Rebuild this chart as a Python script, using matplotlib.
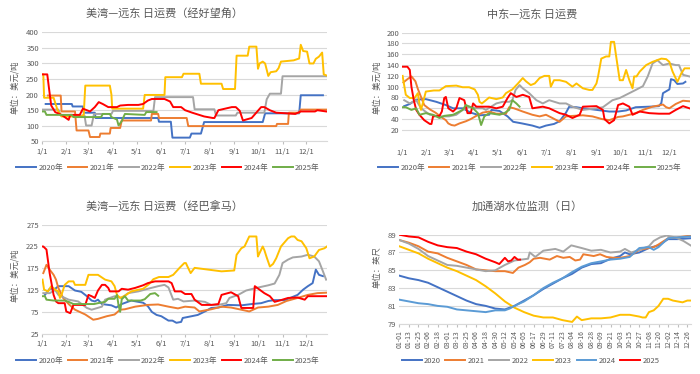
import matplotlib.pyplot as plt

plt.rcParams['font.family'] = ['Noto Sans CJK SC', 'DejaVu Sans']

# colours used in the source charts
c2020 = '#4472C4'
c2021 = '#ED7D31'
c2022 = '#A5A5A5'
c2023 = '#FFC000'
c2024 = '#FF0000'
c2025 = '#70AD47'
c2024_lake = '#5B9BD5'

month_pos = [0, 31, 59, 90, 120, 151, 181, 212, 243, 273, 304, 334]
month_lab = ['1/1', '2/1', '3/1', '4/1', '5/1', '6/1', '7/1', '8/1', '9/1', '10/1', '11/1', '12/1']
years = ['2020年', '2021年', '2022年', '2023年', '2024年', '2025年']

# ---- 美湾-远东 经好望角 (day of year, USD/t)
p1_2020_x = [5, 38, 39, 52, 53, 67, 68, 147, 148, 163, 165, 187, 189, 201, 205, 279, 282, 325, 327, 355]
p1_2020_y = [170, 170, 162, 162, 142, 142, 125, 125, 113, 113, 62, 62, 75, 75, 112, 112, 140, 140, 198, 198]
p1_2021_x = [8, 24, 25, 42, 44, 59, 61, 73, 74, 86, 87, 99, 101, 138, 139, 147, 148, 183, 185, 296, 297, 311, 312, 325, 327, 359]
p1_2021_y = [197, 197, 146, 146, 85, 85, 64, 64, 75, 75, 93, 93, 117, 117, 138, 138, 125, 125, 99, 99, 106, 106, 142, 142, 152, 152]
p1_2022_x = [0, 21, 24, 54, 56, 63, 66, 88, 90, 141, 143, 191, 193, 218, 220, 245, 247, 281, 284, 288, 302, 304, 359]
p1_2022_y = [152, 152, 133, 133, 101, 101, 138, 138, 148, 148, 192, 192, 153, 153, 133, 133, 142, 142, 185, 203, 203, 259, 259]
p1_2023_x = [0, 2, 3, 15, 20, 25, 50, 53, 55, 86, 88, 89, 128, 130, 155, 156, 177, 179, 199, 201, 227, 229, 244, 246,
             260, 262, 271, 273, 275, 279, 282, 286, 289, 296, 299, 302, 318, 325, 327, 330, 335, 338, 343, 346, 350,
             354, 356, 359]
p1_2023_y = [265, 265, 190, 190, 150, 130, 130, 135, 229, 229, 200, 155, 155, 199, 199, 256, 256, 267, 267, 235, 235, 218,
             218, 325, 325, 354, 354, 283, 300, 306, 300, 260, 272, 275, 285, 306, 310, 316, 360, 340, 338, 300, 300,
             315, 322, 335, 265, 262]
p1_2024_x = [0, 7, 9, 12, 17, 25, 29, 34, 36, 48, 52, 61, 67, 72, 77, 84, 95, 99, 109, 122, 128, 134, 139, 155, 162,
             166, 176, 181, 190, 205, 216, 218, 223, 240, 245, 250, 254, 258, 265, 277, 281, 288, 296, 309, 320, 327,
             333, 345, 348, 359]
p1_2024_y = [265, 265, 224, 165, 144, 135, 128, 119, 135, 135, 155, 146, 160, 176, 170, 160, 160, 165, 167, 167, 170,
             181, 186, 186, 178, 160, 160, 150, 142, 130, 125, 125, 150, 160, 160, 148, 117, 120, 125, 160, 160, 150,
             142, 140, 138, 146, 146, 146, 150, 146]
p1_2025_x = [0, 4, 6, 38, 40, 75, 77, 86, 88, 95, 97, 101, 105, 130, 132, 145]
p1_2025_y = [146, 146, 135, 135, 128, 128, 138, 138, 128, 120, 101, 115, 138, 135, 144, 144]

# ---- 中东-远东
p2_2020_x = [3, 10, 18, 30, 43, 55, 64, 76, 86, 97, 109, 112, 122, 132, 139, 150, 163, 172, 180, 190, 197, 205, 209,
             218, 226, 238, 259, 270, 280, 292, 309, 321, 324, 326, 334, 336, 340, 344, 351, 354]
p2_2020_y = [64, 68, 76, 77, 72, 66, 60, 60, 52, 47, 48, 57, 55, 45, 35, 32, 28, 24, 28, 31, 36, 52, 63, 62, 60, 58,
             54, 54, 56, 62, 63, 64, 70, 88, 95, 114, 112, 105, 106, 109]
p2_2021_x = [2, 8, 12, 17, 20, 24, 28, 35, 42, 49, 55, 58, 62, 66, 72, 80, 86, 93, 101, 109, 118, 130, 134, 140, 151,
             163, 172, 180, 188, 197, 205, 214, 226, 238, 250, 259, 270, 276, 292, 301, 313, 320, 326, 330, 334, 342,
             351, 359]
p2_2021_y = [108, 115, 119, 110, 96, 81, 66, 58, 52, 44, 38, 32, 29, 28, 32, 36, 40, 46, 52, 54, 50, 50, 62, 60, 54,
             48, 45, 48, 42, 35, 45, 46, 47, 45, 40, 38, 44, 45, 51, 57, 63, 65, 67, 62, 60, 68, 74, 73]
p2_2022_x = [3, 10, 18, 24, 35, 47, 59, 68, 76, 84, 93, 101, 105, 118, 126, 134, 138, 142, 147, 151, 159, 168, 176,
             184, 197, 205, 213, 226, 243, 251, 263, 272, 280, 292, 301, 307, 313, 319, 326, 334, 342, 346, 351, 359]
p2_2022_y = [75, 69, 75, 60, 48, 45, 45, 48, 57, 63, 60, 60, 57, 69, 72, 72, 75, 94, 103, 97, 88, 75, 69, 75, 69, 69,
             63, 57, 60, 62, 75, 79, 85, 94, 101, 119, 143, 149, 140, 143, 140, 140, 122, 119]
p2_2023_x = [1, 5, 10, 16, 20, 22, 24, 30, 40, 47, 55, 68, 76, 84, 91, 95, 97, 100, 105, 109, 118, 126, 130, 138, 145,
             151, 155, 161, 166, 172, 178, 184, 186, 190, 197, 205, 213, 218, 226, 234, 238, 243, 245, 249, 255, 259,
             261, 265, 267, 272, 276, 280, 284, 288, 290, 293, 297, 305, 313, 324, 330, 334, 338, 344, 349, 353, 359]
p2_2023_y = [120, 85, 79, 79, 88, 69, 57, 91, 93, 93, 101, 102, 99, 99, 95, 85, 72, 69, 75, 80, 77, 80, 88, 95, 106,
             116, 110, 103, 106, 116, 120, 120, 100, 112, 112, 109, 100, 106, 97, 94, 94, 106, 119, 152, 156, 156, 183,
             183, 162, 112, 112, 131, 112, 97, 119, 119, 128, 140, 146, 152, 151, 146, 128, 109, 125, 134, 134]
p2_2024_x = [1, 7, 10, 12, 15, 18, 22, 28, 35, 37, 39, 47, 50, 53, 55, 58, 64, 68, 72, 78, 82, 86, 89, 93, 109, 118,
             126, 132, 136, 143, 151, 159, 163, 176, 184, 197, 205, 213, 222, 226, 243, 251, 253, 259, 265, 270, 276,
             284, 288, 297, 309, 321, 334, 342, 351, 359]
p2_2024_y = [137, 137, 131, 100, 75, 57, 48, 38, 31, 31, 45, 46, 54, 79, 81, 60, 54, 60, 79, 75, 51, 51, 69, 63, 63,
             60, 63, 79, 88, 81, 85, 81, 60, 63, 60, 51, 48, 42, 48, 63, 64, 57, 40, 32, 38, 66, 69, 63, 48, 54, 51,
             50, 50, 57, 64, 60]
p2_2025_x = [0, 5, 12, 18, 22, 30, 39, 47, 53, 64, 76, 80, 89, 95, 99, 103, 109, 122, 128, 134, 138, 143, 147]
p2_2025_y = [62, 62, 57, 60, 48, 51, 48, 42, 46, 48, 57, 66, 60, 51, 29, 45, 51, 48, 51, 57, 75, 69, 63]

# ---- 美湾-远东 经巴拿马
p3_2020_x = [4, 10, 17, 21, 34, 42, 50, 57, 63, 67, 71, 76, 88, 94, 101, 113, 122, 128, 134, 139, 145, 151, 160, 165,
             170, 176, 178, 189, 197, 206, 214, 223, 235, 252, 265, 277, 286, 294, 307, 323, 330, 336, 342, 346, 350,
             355]
p3_2020_y = [114, 128, 128, 134, 134, 124, 121, 111, 101, 99, 103, 93, 90, 85, 93, 101, 98, 96, 88, 75, 68, 65, 55,
             55, 50, 52, 61, 65, 68, 76, 84, 85, 91, 90, 93, 95, 100, 102, 102, 114, 126, 134, 141, 172, 160, 157]
p3_2021_x = [2, 6, 10, 15, 18, 21, 27, 34, 42, 55, 65, 71, 82, 92, 99, 105, 118, 134, 147, 160, 172, 181, 193, 199,
             214, 227, 239, 252, 262, 273, 286, 298, 309, 323, 336, 348, 359]
p3_2021_y = [164, 183, 172, 160, 149, 130, 107, 93, 80, 69, 57, 59, 65, 69, 80, 81, 87, 91, 92, 87, 83, 87, 85, 76,
             81, 87, 85, 80, 76, 85, 87, 91, 100, 107, 114, 118, 119]
p3_2022_x = [2, 10, 17, 21, 34, 46, 57, 63, 76, 80, 92, 101, 109, 122, 134, 147, 155, 160, 166, 172, 179, 193, 206,
             214, 223, 233, 237, 248, 258, 271, 286, 294, 300, 304, 311, 317, 328, 336, 344, 350, 355, 359]
p3_2022_y = [118, 118, 125, 114, 103, 99, 84, 80, 87, 103, 111, 107, 118, 122, 128, 134, 137, 131, 103, 105, 99, 101,
             98, 91, 91, 95, 107, 114, 124, 130, 136, 140, 160, 187, 195, 200, 202, 206, 202, 191, 168, 149]
p3_2023_x = [1, 3, 8, 12, 17, 21, 23, 25, 29, 34, 40, 42, 55, 59, 71, 80, 88, 92, 95, 99, 105, 113, 120, 128, 135,
             141, 148, 160, 166, 174, 180, 182, 184, 188, 193, 210, 227, 243, 246, 252, 256, 262, 271, 273, 275, 279,
             281, 284, 288, 292, 296, 302, 311, 315, 319, 323, 328, 334, 338, 344, 350, 357, 360]
p3_2023_y = [149, 126, 122, 134, 126, 122, 107, 114, 137, 145, 145, 137, 137, 160, 160, 149, 145, 134, 114, 107, 112,
             122, 125, 128, 138, 150, 155, 155, 160, 176, 187, 187, 179, 164, 176, 172, 168, 170, 206, 221, 225, 248,
             248, 202, 210, 225, 217, 200, 179, 185, 198, 225, 244, 248, 248, 240, 237, 221, 198, 202, 217, 221, 225]
p3_2024_x = [0, 2, 6, 10, 15, 18, 21, 29, 31, 36, 40, 55, 59, 63, 67, 71, 76, 80, 84, 86, 97, 101, 109, 118, 128,
             134, 143, 160, 164, 168, 176, 181, 189, 193, 202, 214, 223, 227, 239, 248, 252, 254, 265, 267, 269, 275,
             281, 288, 294, 302, 311, 323, 332, 336, 346, 359]
p3_2024_y = [225, 225, 218, 164, 114, 99, 95, 95, 76, 72, 91, 91, 114, 111, 107, 124, 137, 137, 130, 122, 122, 128,
             126, 130, 136, 141, 145, 145, 141, 122, 122, 116, 116, 103, 91, 91, 93, 114, 120, 111, 84, 84, 84, 84,
             134, 126, 118, 111, 98, 102, 107, 108, 103, 111, 111, 111]
p3_2025_x = [0, 4, 6, 15, 29, 34, 40, 66, 71, 80, 84, 92, 95, 97, 99, 101, 105, 109, 125, 130, 137, 143, 147]
p3_2025_y = [111, 111, 103, 101, 101, 98, 93, 93, 95, 98, 105, 105, 114, 90, 75, 104, 111, 101, 101, 104, 116, 118,
             112]

# ---- 加通湖水位 (day index from 01-01, feet)
lake_tick_pos = [0, 12, 24, 36, 48, 60, 72, 84, 96, 108, 120, 132, 144, 156, 168, 180, 192, 204, 216, 228, 240, 252,
                 264, 276, 288, 300, 312, 324, 336, 348, 360]
lake_tick_lab = ['01-01', '01-13', '01-25', '02-06', '02-18', '03-01', '03-13', '03-25', '04-06', '04-18', '04-30',
                 '05-12', '05-24', '06-05', '06-17', '06-29', '07-11', '07-23', '08-04', '08-16', '08-28', '09-09',
                 '09-21', '10-03', '10-15', '10-27', '11-08', '11-20', '12-02', '12-14', '12-26']
p4_2020_x = [0, 12, 24, 36, 48, 60, 72, 84, 96, 108, 120, 132, 144, 156, 168, 180, 192, 204, 216, 228, 240, 252, 264,
             276, 282, 288, 300, 312, 324, 336, 348, 364]
p4_2020_y = [84.4, 84.1, 83.9, 83.6, 83.1, 82.6, 82.1, 81.6, 81.2, 81.0, 80.7, 80.6, 81.0, 81.6, 82.2, 82.9, 83.5,
             84.1, 84.6, 85.3, 85.7, 85.8, 86.3, 86.6, 87.0, 86.8, 87.0, 87.5, 87.8, 88.5, 88.5, 88.6]
p4_2021_x = [0, 12, 24, 36, 48, 60, 72, 84, 96, 108, 120, 132, 142, 149, 157, 163, 168, 176, 188, 197, 205, 213, 220,
             226, 230, 243, 251, 259, 268, 276, 288, 300, 312, 318, 324, 336, 348, 364]
p4_2021_y = [88.4, 88.1, 87.7, 87.1, 86.9, 86.4, 86.0, 85.6, 85.1, 85.0, 84.9, 84.9, 84.7, 85.3, 85.6, 85.9, 86.3, 86.4,
             86.2, 86.6, 86.4, 86.5, 86.1, 86.2, 86.8, 86.6, 86.8, 86.5, 86.4, 86.4, 86.6, 87.3, 87.5, 87.6, 87.9,
             88.6, 88.7, 88.9]
p4_2022_x = [0, 12, 24, 36, 48, 60, 72, 84, 96, 108, 120, 132, 144, 161, 163, 170, 180, 195, 205, 215, 228, 240, 252,
             264, 276, 282, 290, 300, 312, 318, 326, 334, 345, 355, 364]
p4_2022_y = [88.4, 88.0, 87.4, 86.6, 86.1, 85.6, 85.5, 85.3, 85.1, 84.9, 85.0, 85.6, 86.1, 86.3, 87.0, 86.5, 87.2,
             87.4, 87.1, 87.8, 87.5, 87.2, 87.3, 87.0, 87.1, 87.4, 87.0, 87.3, 87.7, 88.3, 88.7, 88.9, 88.7, 88.3,
             87.8]
p4_2023_x = [0, 12, 24, 36, 48, 60, 72, 84, 96, 108, 120, 132, 144, 156, 168, 180, 192, 204, 210, 216, 222, 228, 240,
             252, 264, 276, 288, 300, 304, 308, 312, 318, 324, 330, 336, 342, 348, 354, 360, 364]
p4_2023_y = [87.7, 87.3, 86.9, 86.3, 85.8, 85.3, 84.9, 84.4, 83.9, 83.2, 82.4, 81.5, 80.8, 80.3, 79.9, 79.7, 79.7,
             79.4, 79.3, 79.2, 79.8, 79.4, 79.6, 79.6, 79.7, 80.0, 80.0, 79.8, 79.7, 79.7, 80.3, 80.5, 81.0, 81.8,
             81.8, 81.6, 81.5, 81.4, 81.6, 81.6]
p4_2024_x = [0, 12, 24, 36, 48, 60, 72, 84, 96, 108, 120, 132, 138, 144, 156, 168, 180, 192, 204, 216, 228, 240, 252,
             264, 276, 288, 300, 312, 318, 324, 336, 348, 364]
p4_2024_y = [81.7, 81.5, 81.3, 81.2, 81.0, 80.9, 80.6, 80.5, 80.4, 80.3, 80.5, 80.5, 80.7, 81.0, 81.5, 82.2, 83.0,
             83.6, 84.1, 84.8, 85.4, 85.8, 86.0, 86.2, 86.3, 86.5, 87.5, 87.6, 87.3, 87.6, 88.6, 88.7, 88.8]
p4_2025_x = [0, 12, 24, 36, 48, 60, 72, 84, 96, 108, 120, 125, 128, 132, 136, 140, 144, 148, 151]
p4_2025_y = [89.0, 88.8, 88.7, 88.2, 87.8, 87.6, 87.5, 87.1, 86.8, 86.3, 85.9, 85.7, 86.0, 86.4, 86.0, 86.1, 86.5,
             86.2, 86.2]

fig = plt.figure(figsize=(7, 3.74), dpi=100)
grey_txt = '#595959'


def style(ax, ylim, yticks):
    ax.set_ylim(*ylim)
    ax.set_yticks(yticks)
    ax.grid(axis='y', color='#D9D9D9', lw=0.8)
    ax.set_axisbelow(True)
    for s in ['top', 'right', 'left']:
        ax.spines[s].set_visible(False)
    ax.spines['bottom'].set_color('#D9D9D9')
    ax.tick_params(axis='y', length=0, labelsize=5.5, labelcolor=grey_txt, pad=2)
    ax.tick_params(axis='x', length=2.5, color='#BFBFBF', labelsize=5.5, labelcolor=grey_txt, pad=2)


def legend(ax, x, y):
    ax.legend(loc='center', bbox_to_anchor=(x, y), bbox_transform=fig.transFigure, ncol=6, frameon=False,
              fontsize=5.5, handlelength=2.6, columnspacing=0.6, handletextpad=0.3, labelcolor=grey_txt)


lw = 1.4

# panel 1
ax1 = fig.add_axes([0.0596, 0.622, 0.4074, 0.2916])
ax1.plot(p1_2020_x, p1_2020_y, color=c2020, lw=lw, label=years[0])
ax1.plot(p1_2021_x, p1_2021_y, color=c2021, lw=lw, label=years[1])
ax1.plot(p1_2022_x, p1_2022_y, color=c2022, lw=lw, label=years[2])
ax1.plot(p1_2023_x, p1_2023_y, color=c2023, lw=lw, label=years[3])
ax1.plot(p1_2024_x, p1_2024_y, color=c2024, lw=lw, label=years[4])
ax1.plot(p1_2025_x, p1_2025_y, color=c2025, lw=lw, label=years[5])
style(ax1, (50, 400), range(50, 401, 50))
ax1.set_xlim(0, 360)
ax1.set_xticks(month_pos, month_lab)
legend(ax1, 0.24, 0.551)
fig.text(165 / 700, 0.965, '美湾—远东 日运费（经好望角）', ha='center', va='center', fontsize=8, color=grey_txt)
fig.text(0.021, 0.768, '单位：美元/吨', rotation=90, ha='center', va='center', fontsize=6, color=grey_txt)

# panel 2
ax2 = fig.add_axes([0.574, 0.6238, 0.412, 0.2888])
ax2.plot(p2_2020_x, p2_2020_y, color=c2020, lw=lw, label=years[0])
ax2.plot(p2_2021_x, p2_2021_y, color=c2021, lw=lw, label=years[1])
ax2.plot(p2_2022_x, p2_2022_y, color=c2022, lw=lw, label=years[2])
ax2.plot(p2_2023_x, p2_2023_y, color=c2023, lw=lw, label=years[3])
ax2.plot(p2_2024_x, p2_2024_y, color=c2024, lw=lw, label=years[4])
ax2.plot(p2_2025_x, p2_2025_y, color=c2025, lw=lw, label=years[5])
style(ax2, (0, 200), range(20, 201, 20))
ax2.spines['bottom'].set_visible(False)
ax2.tick_params(axis='x', length=0, pad=6)
ax2.set_xlim(0, 360)
ax2.set_xticks(month_pos, month_lab)
legend(ax2, 0.757, 0.551)
fig.text(0.76, 0.962, '中东—远东 日运费', ha='center', va='center', fontsize=8, color=grey_txt)
fig.text(0.538, 0.768, '单位：美元/吨', rotation=90, ha='center', va='center', fontsize=6, color=grey_txt)

# panel 3
ax3 = fig.add_axes([0.0596, 0.1078, 0.4074, 0.2914])
ax3.plot(p3_2020_x, p3_2020_y, color=c2020, lw=lw, label=years[0])
ax3.plot(p3_2021_x, p3_2021_y, color=c2021, lw=lw, label=years[1])
ax3.plot(p3_2022_x, p3_2022_y, color=c2022, lw=lw, label=years[2])
ax3.plot(p3_2023_x, p3_2023_y, color=c2023, lw=lw, label=years[3])
ax3.plot(p3_2024_x, p3_2024_y, color=c2024, lw=lw, label=years[4])
ax3.plot(p3_2025_x, p3_2025_y, color=c2025, lw=lw, label=years[5])
style(ax3, (25, 275), range(25, 276, 50))
ax3.set_xlim(0, 360)
ax3.set_xticks(month_pos, month_lab)
legend(ax3, 0.24, 0.035)
fig.text(165 / 700, 0.448, '美湾—远东 日运费（经巴拿马）', ha='center', va='center', fontsize=8, color=grey_txt)
fig.text(0.021, 0.265, '单位：美元/吨', rotation=90, ha='center', va='center', fontsize=6, color=grey_txt)

# panel 4
ax4 = fig.add_axes([0.5704, 0.1345, 0.4172, 0.238])
ax4.plot(p4_2020_x, p4_2020_y, color=c2020, lw=lw, label='2020')
ax4.plot(p4_2021_x, p4_2021_y, color=c2021, lw=lw, label='2021')
ax4.plot(p4_2022_x, p4_2022_y, color=c2022, lw=lw, label='2022')
ax4.plot(p4_2023_x, p4_2023_y, color=c2023, lw=lw, label='2023')
ax4.plot(p4_2024_x, p4_2024_y, color=c2024_lake, lw=lw, label='2024')
ax4.plot(p4_2025_x, p4_2025_y, color=c2024, lw=lw, label='2025')
style(ax4, (79, 89), range(79, 90, 2))
ax4.set_xlim(0, 365)
ax4.set_xticks(lake_tick_pos, lake_tick_lab, rotation=90)
ax4.tick_params(axis='x', labelsize=5)
legend(ax4, 0.758, 0.035)
fig.text(0.7536, 0.448, '加通湖水位监测（日）', ha='center', va='center', fontsize=8, color=grey_txt)
fig.text(0.538, 0.286, '单位：英尺', rotation=90, ha='center', va='center', fontsize=6, color=grey_txt)

fig.savefig('out.png', dpi=100)
